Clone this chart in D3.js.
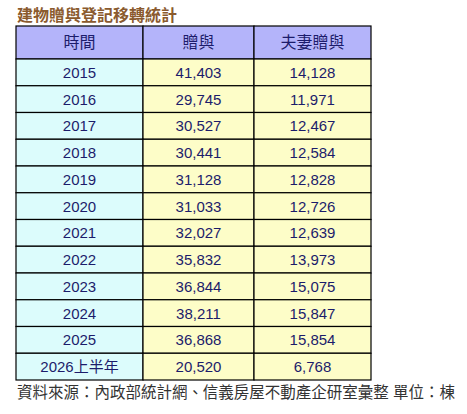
<!DOCTYPE html>
<html><head><meta charset="utf-8">
<script src="https://cdn.jsdelivr.net/npm/d3@7"></script>
<style>body{margin:0;background:#fff}</style>
</head><body>
<svg width="467" height="414"></svg>
<script>
var headers = ["時間", "贈與", "夫妻贈與"];
var periods = ["2015","2016","2017","2018","2019","2020","2021","2022","2023","2024","2025","2026上半年"];
var gifts = [41403,29745,30527,30441,31128,31033,32027,35832,36844,38211,36868,20520];
var spouseGifts = [14128,11971,12467,12584,12828,12726,12639,13973,15075,15847,15854,6768];

var svg = d3.select("svg");
var font = "Arial, 'Liberation Sans', 'Noto Sans CJK TC', sans-serif";
var fmt = d3.format(",");

var x = d3.scaleOrdinal().domain([0,1,2]).range([16,143,254]);
var widths = [127,111,117];
var y = d3.scaleBand().domain(d3.range(periods.length)).range([59,380]);
function rowY(ri){ return ri == 0 ? 26 : y(ri-1); }
function rowH(ri){ return ri == 0 ? 33 : y.bandwidth(); }

svg.append("text").attr("x",17).attr("y",21)
  .attr("font-family",font).attr("font-size",16).attr("font-weight","bold").attr("fill","#8a5a2e")
  .text("建物贈與登記移轉統計");

var rows = [headers].concat(periods.map(function(p,i){
  return [p, fmt(gifts[i]), fmt(spouseGifts[i])];
}));

var fills = ["#dcfcfc","#fdfdc8","#fdfdc8"];
rows.forEach(function(r,ri){
  r.forEach(function(v,ci){
    svg.append("rect")
      .attr("x",x(ci)).attr("y",rowY(ri))
      .attr("width",widths[ci]).attr("height",rowH(ri))
      .attr("fill", ri==0 ? "#b4b4fa" : fills[ci])
      .attr("stroke","#000").attr("stroke-width",1.2);
    svg.append("text")
      .attr("x",x(ci)+widths[ci]/2).attr("y",rowY(ri)+rowH(ri)/2+5.5)
      .attr("text-anchor","middle")
      .attr("font-family",font).attr("font-size", ri==0 ? 16 : 15)
      .attr("fill","#1c1c6b")
      .text(v);
  });
});

svg.append("text").attr("x",17).attr("y",398)
  .attr("font-family",font).attr("font-size",16).attr("fill","#333")
  .attr("textLength",438).attr("lengthAdjust","spacingAndGlyphs")
  .text("資料來源：內政部統計網、信義房屋不動產企研室彙整 單位：棟");
</script>
</body></html>
